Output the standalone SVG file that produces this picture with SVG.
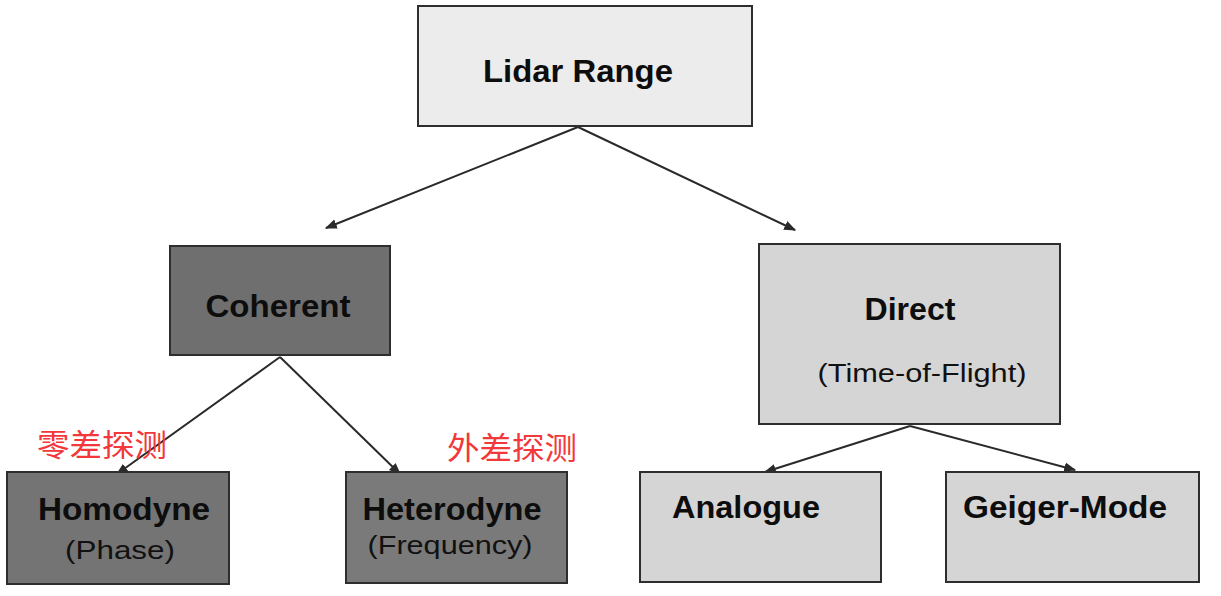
<svg xmlns="http://www.w3.org/2000/svg" width="1221" height="596" viewBox="0 0 1221 596">
<style>
.box{stroke:#2e2e2e;stroke-width:2}
.light{fill:#d5d5d5}
.dark{fill:#747474}
.t{font-family:"Liberation Sans",Arial,sans-serif;font-weight:bold;font-size:31px;fill:#0d0d0d;text-anchor:middle}
.s{font-family:"Liberation Sans",Arial,sans-serif;font-size:26px;fill:#111;text-anchor:middle}
.cn{font-family:"Noto Sans CJK SC",sans-serif;font-size:31px;fill:#f2383a}
.edge{stroke:#2a2a2a;stroke-width:2;fill:none;marker-end:url(#ah)}
</style>
<defs>
<marker id="ah" viewBox="0 0 10 10" refX="9" refY="5" markerWidth="6" markerHeight="6" orient="auto" markerUnits="strokeWidth">
<path d="M0,1 L10,5 L0,9 Z" fill="#2a2a2a"/>
</marker>
</defs>
<rect width="1221" height="596" fill="#ffffff"/>
<g id="connectors">
<line class="edge" x1="578" y1="127" x2="326" y2="228"/>
<line class="edge" x1="578" y1="127" x2="795" y2="230"/>
<line class="edge" x1="280" y1="357" x2="117" y2="474"/>
<line class="edge" x1="280" y1="357" x2="400" y2="474"/>
<line class="edge" x1="910" y1="426" x2="765" y2="472"/>
<line class="edge" x1="910" y1="426" x2="1075" y2="470"/>
</g>
<g id="lidar-range">
<rect class="box" x="418" y="6" width="334" height="120" fill="#ececec"/>
<text class="t" x="578" y="82" textLength="190" lengthAdjust="spacingAndGlyphs">Lidar Range</text>
</g>
<g id="coherent">
<rect class="box" x="170" y="246" width="220" height="109" fill="#6f6f6f"/>
<text class="t" x="278" y="317" textLength="145" lengthAdjust="spacingAndGlyphs">Coherent</text>
</g>
<g id="direct">
<rect class="box light" x="759" y="244" width="301" height="180"/>
<text class="t" x="910" y="320" textLength="91" lengthAdjust="spacingAndGlyphs">Direct</text>
<text class="s" x="922" y="382" textLength="209" lengthAdjust="spacingAndGlyphs">(Time-of-Flight)</text>
</g>
<g id="homodyne">
<rect class="box dark" x="7" y="472" width="222" height="112"/>
<text class="t" x="124" y="520" textLength="172" lengthAdjust="spacingAndGlyphs">Homodyne</text>
<text class="s" x="120" y="559" textLength="110" lengthAdjust="spacingAndGlyphs">(Phase)</text>
</g>
<g id="heterodyne">
<rect class="box" x="346" y="472" width="221" height="111" fill="#7a7a7a"/>
<text class="t" x="452" y="520" textLength="179" lengthAdjust="spacingAndGlyphs">Heterodyne</text>
<text class="s" x="450" y="554" textLength="165" lengthAdjust="spacingAndGlyphs">(Frequency)</text>
</g>
<g id="analogue">
<rect class="box light" x="640" y="472" width="241" height="110"/>
<text class="t" x="746" y="518" textLength="148" lengthAdjust="spacingAndGlyphs">Analogue</text>
</g>
<g id="geiger-mode">
<rect class="box light" x="946" y="472" width="253" height="110"/>
<text class="t" x="1065" y="518" textLength="204" lengthAdjust="spacingAndGlyphs">Geiger-Mode</text>
</g>
<g id="labels">
<text class="cn" x="37" y="456" textLength="130" lengthAdjust="spacingAndGlyphs">零差探测</text>
<text class="cn" x="447" y="459" textLength="130" lengthAdjust="spacingAndGlyphs">外差探测</text>
</g>
</svg>
